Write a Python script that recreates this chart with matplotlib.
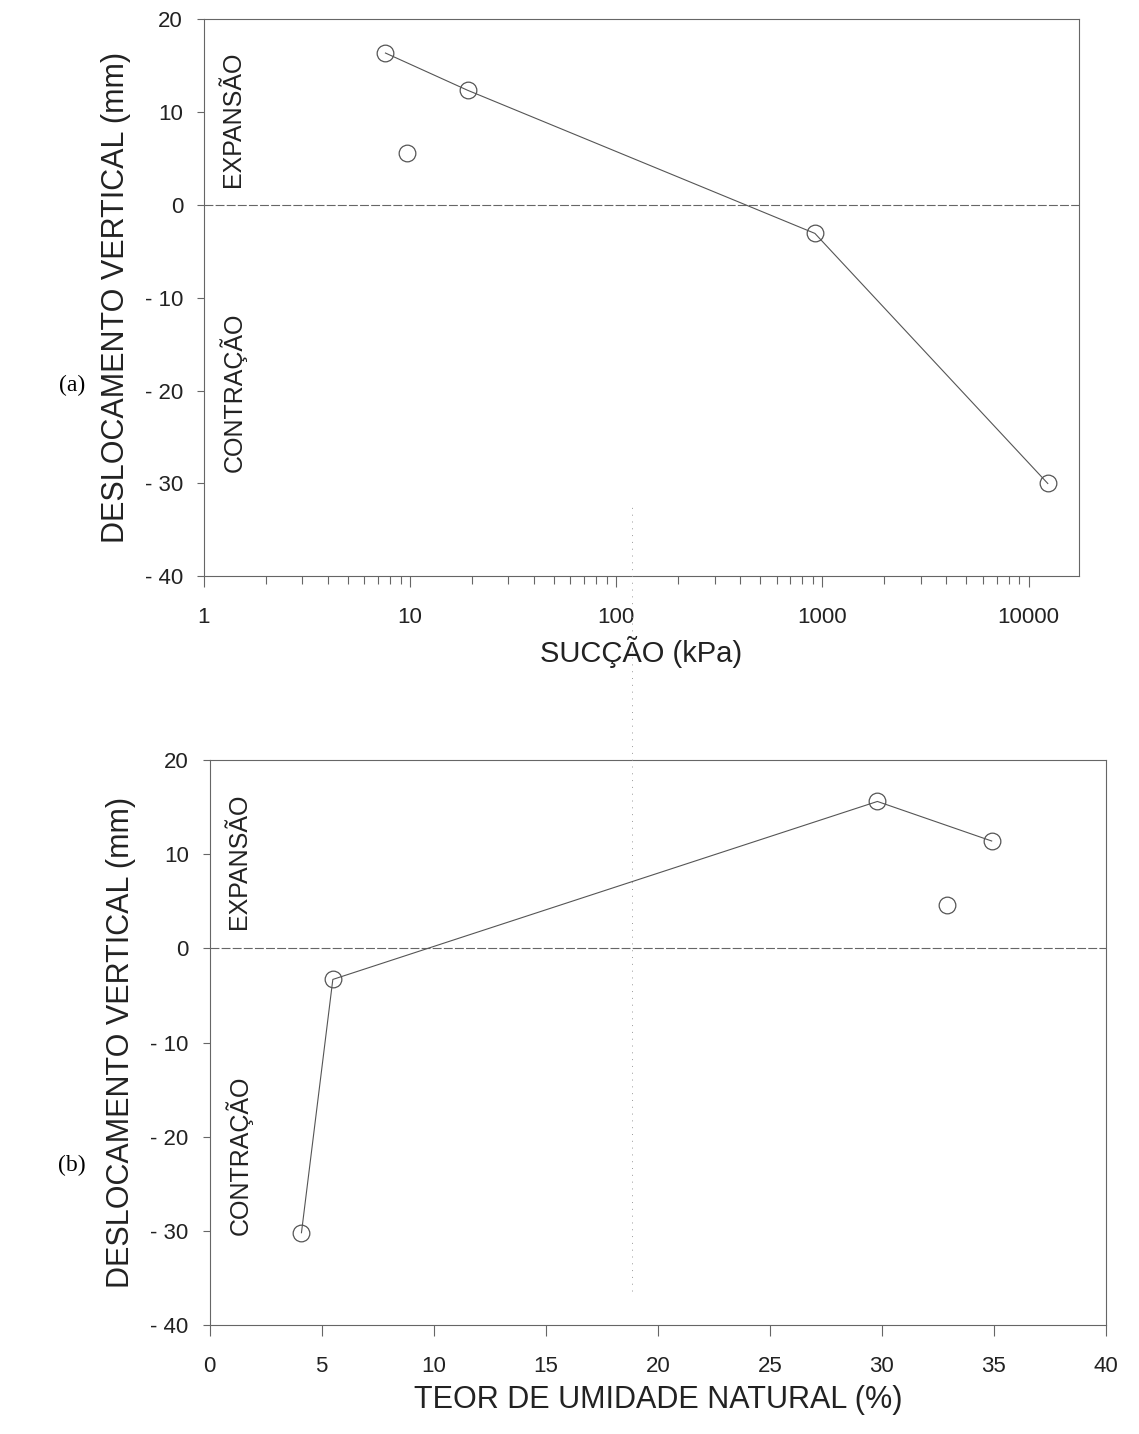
import matplotlib
matplotlib.use("Agg")
import matplotlib.pyplot as plt
from matplotlib.lines import Line2D
from matplotlib.ticker import FixedLocator, LogLocator, NullFormatter

plt.rcParams['font.family'] = ['Liberation Sans', 'DejaVu Sans']

# (a) suction vs vertical displacement
succao = [7.6, 19.0, 920, 12400]
desloc_a = [16.3, 12.3, -3.1, -30.0]
succao_isolado = [9.7]
desloc_a_isolado = [5.5]

# (b) natural moisture content vs vertical displacement
umidade = [4.1, 5.5, 29.8, 34.9]
desloc_b = [-30.2, -3.3, 15.6, 11.4]
umidade_isolado = [32.9]
desloc_b_isolado = [4.6]

y_ticks = [20, 10, 0, -10, -20, -30, -40]
y_labels = [str(v) if v >= 0 else "- " + str(abs(v)) for v in y_ticks]
x_ticks_a = [1, 10, 100, 1000, 10000]
x_ticks_b = [0, 5, 10, 15, 20, 25, 30, 35, 40]

line_kw = dict(color='#555555', lw=0.8)
mark_kw = dict(ls='none', marker='o', ms=12, mfc='none', mec='#555555', mew=0.9)

fig = plt.figure(figsize=(11.39, 14.34), dpi=100)
ax_a = fig.add_axes([0.179, 0.598, 0.768, 0.389])
ax_b = fig.add_axes([0.184, 0.076, 0.787, 0.394])


def style_axes(ax):
    for s in ax.spines.values():
        s.set_color('#666666')
        s.set_linewidth(0.8)
    ax.set_ylim(-40, 20)
    ax.set_yticks(y_ticks)
    ax.set_yticklabels(y_labels)
    ax.tick_params(axis='both', which='both', direction='out', colors='#666666',
                   labelcolor='#222222', labelsize=16, width=0.8)
    ax.tick_params(axis='y', length=5, pad=10)
    ax.tick_params(axis='x', which='major', length=8, pad=14)
    ax.tick_params(axis='x', which='minor', length=6)
    ax.axhline(0, color='#666666', lw=0.8, ls=(0, (8, 2)))
    ax.set_ylabel('DESLOCAMENTO VERTICAL (mm)', fontsize=22, color='#222222', labelpad=10)


def side_notes(ax, y_exp, y_con):
    ax.text(0.033, y_exp, 'EXPANSÃO', transform=ax.transAxes, rotation=90,
            ha='center', va='center', fontsize=18, color='#222222')
    ax.text(0.033, y_con, 'CONTRAÇÃO', transform=ax.transAxes, rotation=90,
            ha='center', va='center', fontsize=18, color='#222222')


# panel (a)
ax_a.set_xscale('log')
ax_a.set_xlim(1, 17500)
style_axes(ax_a)
ax_a.xaxis.set_major_locator(FixedLocator(x_ticks_a))
ax_a.set_xticklabels([str(v) for v in x_ticks_a])
ax_a.xaxis.set_minor_locator(LogLocator(base=10, subs=range(2, 10)))
ax_a.xaxis.set_minor_formatter(NullFormatter())
ax_a.plot(succao, desloc_a, **line_kw)
ax_a.plot(succao, desloc_a, **mark_kw)
ax_a.plot(succao_isolado, desloc_a_isolado, **mark_kw)
ax_a.set_xlabel('SUCÇÃO (kPa)', fontsize=21, color='#222222', labelpad=6)
side_notes(ax_a, 0.82, 0.33)

# panel (b)
ax_b.set_xlim(0, 40)
style_axes(ax_b)
ax_b.set_xticks(x_ticks_b)
ax_b.plot(umidade, desloc_b, **line_kw)
ax_b.plot(umidade, desloc_b, **mark_kw)
ax_b.plot(umidade_isolado, desloc_b_isolado, **mark_kw)
ax_b.set_xlabel('TEOR DE UMIDADE NATURAL (%)', fontsize=22, color='#222222', labelpad=6)
side_notes(ax_b, 0.82, 0.30)

# panel letters
fig.text(0.063, 0.731, '(a)', fontsize=17, family='Liberation Serif', ha='center', va='center')
fig.text(0.063, 0.187, '(b)', fontsize=17, family='Liberation Serif', ha='center', va='center')

# faint fold line from the scanned page
fig.add_artist(Line2D([0.555, 0.555], [0.10, 0.65], color='#999999', lw=0.7,
                      ls=(0, (1, 6)), transform=fig.transFigure))

fig.savefig('out.png', dpi=100, facecolor='white')
